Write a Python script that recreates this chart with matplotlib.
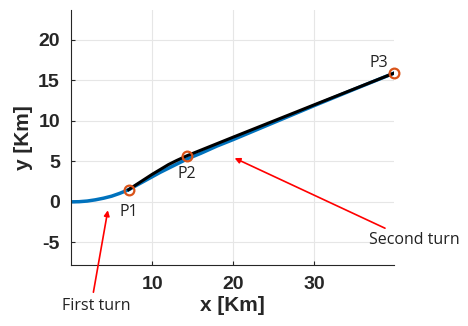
import numpy as np
import matplotlib.pyplot as plt

plt.rcParams["axes.unicode_minus"] = False

# trajectory (km)
blue_x = [0, 1, 2, 3, 4, 5, 6, 7.1, 8, 9, 10, 11, 12, 13, 14.3, 16, 18, 20, 25, 30, 35, 39.8]
blue_y = [0, 0.02, 0.1, 0.25, 0.45, 0.7, 1.05, 1.5, 2.0, 2.55, 3.1, 3.65, 4.15, 4.65, 5.3, 6.0, 6.9, 7.7, 9.8, 11.9, 13.95, 15.9]

black_x = [7.1, 8, 9, 10, 11, 12, 13, 14.3, 20, 30, 39.8]
black_y = [1.5, 2.1, 2.75, 3.4, 4.0, 4.6, 5.1, 5.7, 8.0, 12.0, 15.9]

pts_x = [7.1, 14.3, 39.8]
pts_y = [1.5, 5.7, 15.9]
pts_lbl = ["P1", "P2", "P3"]
lbl_x = [7.1, 14.3, 37.9]
lbl_y = [-1.2, 3.5, 17.2]

fig = plt.figure(figsize=(4.68, 3.26), dpi=100)
ax = fig.add_axes([71/468, 1 - 265/326, (394 - 71)/468, (265 - 10)/326])

ax.plot(blue_x, blue_y, color="#0072BD", lw=2.5)
ax.plot(black_x, black_y, color="black", lw=2.2)
ax.plot(pts_x, pts_y, "o", mfc="none", mec="#D95319", ms=7, mew=1.6, clip_on=False)

for x, y, s in zip(lbl_x, lbl_y, pts_lbl):
    ax.text(x, y, s, ha="center", va="center", fontsize=11.5, family="Open Sans", color="#222222")

red = "#FF0000"
ax.annotate("", xy=(4.6, -0.7), xytext=(2.7, -11.5),
            arrowprops=dict(arrowstyle="-|>", color=red, lw=1.2, mutation_scale=8),
            annotation_clip=False)
ax.annotate("", xy=(19.85, 5.55), xytext=(39.0, -3.4),
            arrowprops=dict(arrowstyle="-|>", color=red, lw=1.2, mutation_scale=8),
            annotation_clip=False)
ax.text(3.1, -12.9, "First turn", ha="center", va="center", fontsize=11.5, family="Open Sans", color="#222222")
ax.text(42.3, -4.7, "Second turn", ha="center", va="center", fontsize=11.5, family="Open Sans", color="#222222")

ax.set_xlim(0, 39.8)
ax.set_ylim(-7.8, 23.7)
ax.set_xticks([10, 20, 30])
ax.set_yticks([-5, 0, 5, 10, 15, 20])
ax.grid(True, color="#E6E6E6", lw=0.8)
ax.set_axisbelow(True)
for side in ["top", "right"]:
    ax.spines[side].set_visible(False)
for side in ["left", "bottom"]:
    ax.spines[side].set_color("#262626")
ax.tick_params(direction="in", length=3, colors="#262626", labelsize=14, pad=8)
for lab in ax.get_xticklabels() + ax.get_yticklabels():
    lab.set_fontweight("bold")
    lab.set_family("Liberation Sans")

ax.set_xlabel("x [Km]", fontsize=15, fontweight="bold", family="Liberation Sans", color="#262626", labelpad=2)
ax.set_ylabel("y [Km]", fontsize=15, fontweight="bold", family="Liberation Sans", color="#262626", labelpad=4)

fig.savefig("out.png", dpi=100)
